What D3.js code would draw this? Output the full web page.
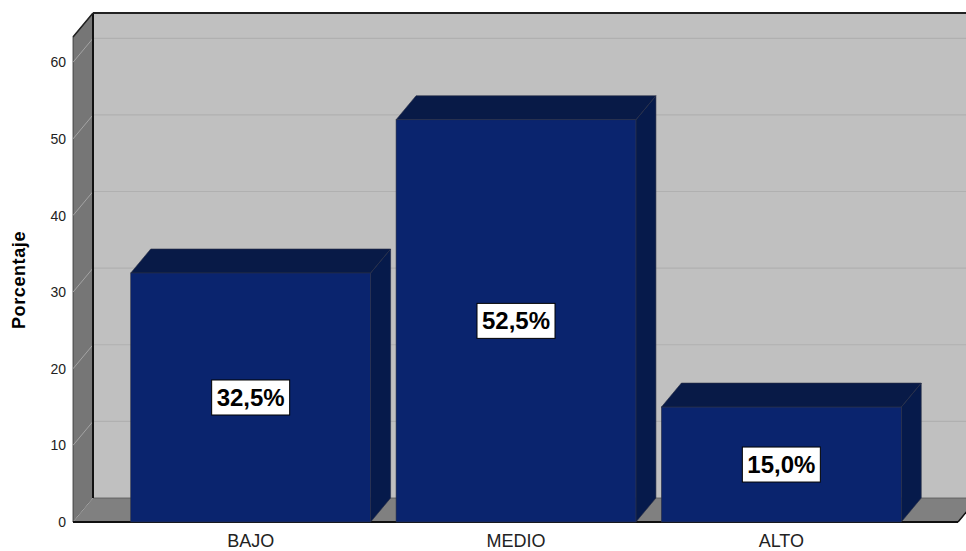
<!DOCTYPE html>
<html><head><meta charset="utf-8">
<script src="https://cdn.jsdelivr.net/npm/d3@7/dist/d3.min.js"></script>
<style>body{margin:0;background:#fff}svg{display:block}text{font-family:"Liberation Sans",Arial,sans-serif}</style>
</head><body><svg id="c" width="966" height="551"></svg>
<script>
const categories = ["BAJO", "MEDIO", "ALTO"];
const values = [32.5, 52.5, 15.0];
const tickValues = [0, 10, 20, 30, 40, 50, 60];
const yTitle = "Porcentaje";

const svg = d3.select("#c");
const dx = 20, dy = -24;
const y = d3.scaleLinear().domain([0, 63.3]).range([522, 37]);
const x = d3.scaleBand().domain(categories).range([118, 914]).paddingInner(0.096).paddingOuter(0.048);
const xLeft = 73, xRight = 958;
const y0 = y(0), yTop = y(63.3);

// back wall
svg.append("rect").attr("x", xLeft+dx).attr("y", yTop+dy).attr("width", 1000).attr("height", y0 - yTop).attr("fill", "#c0c0c0");
// back grid lines
svg.selectAll(".bg").data(tickValues.slice(1)).enter().append("line")
  .attr("x1", xLeft+dx).attr("x2", 1000).attr("y1", d => y(d)+dy).attr("y2", d => y(d)+dy)
  .attr("stroke", "#b0b0b0").attr("stroke-width", 1.2);
// left wall
svg.append("polygon").attr("points", [[xLeft,y0],[xLeft,yTop],[xLeft+dx,yTop+dy],[xLeft+dx,y0+dy]].join(" "))
  .attr("fill", "#767676").attr("stroke", "#333").attr("stroke-width", 0.8);
svg.selectAll(".lg").data(tickValues.slice(1)).enter().append("line")
  .attr("x1", xLeft).attr("x2", xLeft+dx).attr("y1", d => y(d)).attr("y2", d => y(d)+dy)
  .attr("stroke", "#a4a4a4").attr("stroke-width", 1);
// floor
svg.append("polygon").attr("points", [[xLeft,y0],[xLeft+dx,y0+dy],[xRight+dx,y0+dy],[xRight,y0]].join(" "))
  .attr("fill", "#808080").attr("stroke", "#555").attr("stroke-width", 0.8);
svg.append("line").attr("x1", xLeft).attr("x2", xLeft+dx).attr("y1", y0).attr("y2", y0+dy).attr("stroke", "#a4a4a4");
// edges
svg.append("line").attr("x1", xLeft+dx).attr("x2", xLeft+dx).attr("y1", yTop+dy).attr("y2", y0+dy).attr("stroke", "#111").attr("stroke-width", 2);
svg.append("line").attr("x1", xLeft+dx).attr("x2", 1000).attr("y1", yTop+dy).attr("y2", yTop+dy).attr("stroke", "#222").attr("stroke-width", 2);
svg.append("line").attr("x1", xLeft).attr("x2", xLeft+dx).attr("y1", yTop).attr("y2", yTop+dy).attr("stroke", "#222").attr("stroke-width", 1.5);
svg.append("line").attr("x1", xLeft).attr("x2", xRight).attr("y1", y0).attr("y2", y0).attr("stroke", "#111").attr("stroke-width", 2);
svg.append("line").attr("x1", xRight).attr("x2", xRight+dx).attr("y1", y0).attr("y2", y0+dy).attr("stroke", "#111").attr("stroke-width", 1.5);

// bars
const data = categories.map((c, i) => ({c, v: values[i]}));
const g = svg.selectAll(".bar").data(data).enter().append("g");
g.append("polygon").attr("points", d => {
  const x1 = x(d.c) + x.bandwidth(), yt = y(d.v);
  return [[x1,yt],[x1+dx,yt+dy],[x1+dx,y0+dy],[x1,y0]].join(" ");
}).attr("fill", "#061a4b").attr("stroke", "#2a2f45").attr("stroke-width", 0.6);
g.append("polygon").attr("points", d => {
  const x0 = x(d.c), x1 = x0 + x.bandwidth(), yt = y(d.v);
  return [[x0,yt],[x0+dx,yt+dy],[x1+dx,yt+dy],[x1,yt]].join(" ");
}).attr("fill", "#081a47").attr("stroke", "#2a2f45").attr("stroke-width", 0.6);
g.append("rect").attr("x", d => x(d.c)).attr("y", d => y(d.v)).attr("width", x.bandwidth()).attr("height", d => y0 - y(d.v))
  .attr("fill", "#0a246e").attr("stroke", "#2a2f45").attr("stroke-width", 0.6);

// value labels
const fmt = v => d3.format(".1f")(v).replace(".", ",") + "%";
const lg = g.append("g").attr("transform", d => `translate(${x(d.c)+x.bandwidth()/2},${(y(d.v)+y0)/2})`);
lg.append("rect").attr("x", -39).attr("y", -17.5).attr("width", 78).attr("height", 35).attr("fill", "#fff").attr("stroke", "#000").attr("stroke-width", 1);
lg.append("text").attr("text-anchor", "middle").attr("dy", 8.5).attr("font-size", 24).attr("font-weight", "bold").attr("fill", "#000").text(d => fmt(d.v));

// y tick labels
svg.selectAll(".tl").data(tickValues).enter().append("text")
  .attr("x", 66).attr("y", d => y(d) + 5).attr("text-anchor", "end").attr("font-size", 14).attr("fill", "#222").text(d => d);
// category labels
svg.selectAll(".cl").data(categories).enter().append("text")
  .attr("x", d => x(d) + x.bandwidth()/2).attr("y", 547).attr("text-anchor", "middle").attr("font-size", 18).attr("fill", "#222").text(d => d);
// y title
svg.append("text").attr("transform", "translate(25,280) rotate(-90)").attr("text-anchor", "middle")
  .attr("font-size", 18).attr("font-weight", "bold").attr("letter-spacing", 0.6).attr("fill", "#000").text(yTitle);
</script></body></html>
